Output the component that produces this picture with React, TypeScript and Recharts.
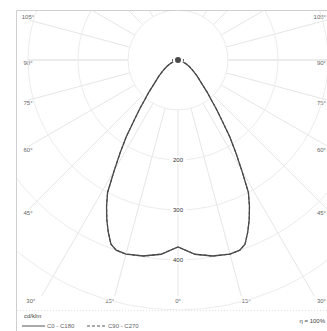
import { RadarChart, Radar, PolarGrid, PolarAngleAxis, PolarRadiusAxis } from "recharts";

// Half profile (0° = straight down), mirrored to both sides.
const GAMMA = [0, 5, 10, 15, 18, 20, 22, 24, 26, 28, 30, 32, 34, 36, 38, 40, 42, 45, 50, 55, 60, 65, 70, 80, 90];
const C0_C180 = [374, 390, 398, 402, 400, 392, 372, 350, 326, 300, 255, 218, 185, 150, 125, 103, 88, 68, 50, 36, 26, 17, 10, 4, 0];
const C90_C270 = [374, 390, 398, 402, 400, 392, 372, 350, 326, 300, 255, 218, 185, 150, 125, 103, 88, 68, 50, 36, 26, 17, 10, 4, 0];

const RING_TICKS = [100, 200, 300, 400, 500, 600, 700];
const RING_LABELS = [200, 300, 400];
const RAY_ANGLES = [-180, -165, -150, -135, -120, -105, -90, -75, -60, -45, -30, -15, 0, 15, 30, 45, 60, 75, 90, 105, 120, 135, 150, 165];
const LABEL_ANGLES = [-105, -90, -75, -60, -45, -30, -15, 0, 15, 30, 45, 60, 75, 90, 105];

const W = 327;
const H = 331;
const CX = 178;
const CY = 60;
const MAX_VALUE = 700;
const OUTER = 350; // 50 px per 100 cd/klm
const RAY_BOX = { left: 28, right: 328, top: 11, bottom: 296 };
const FONT = "'Liberation Sans', Arial, sans-serif";
const TEXT = "#666";

const tableData = [
  ...GAMMA.slice(1).map((g, i) => ({ angle: -g, c0: C0_C180[i + 1], c90: C90_C270[i + 1] })).reverse(),
  ...GAMMA.map((g, i) => ({ angle: g, c0: C0_C180[i], c90: C90_C270[i] })),
];

function rayEnd(theta: number) {
  const rad = (theta * Math.PI) / 180;
  const dx = Math.sin(rad);
  const dy = Math.cos(rad);
  const ts: number[] = [];
  if (dx > 1e-6) ts.push((RAY_BOX.right - CX) / dx);
  if (dx < -1e-6) ts.push((RAY_BOX.left - CX) / dx);
  if (dy > 1e-6) ts.push((RAY_BOX.bottom - CY) / dy);
  if (dy < -1e-6) ts.push((RAY_BOX.top - CY) / dy);
  const t = Math.min(...ts);
  return { x: CX + dx * t, y: CY + dy * t, dx, dy, t };
}

const RingTick = (props: any) => {
  const { x, y, payload } = props;
  if (!RING_LABELS.includes(payload.value)) return <g />;
  return (
    <g>
      <rect x={x - 8} y={y - 4} width={16} height={8} fill="#fff" />
      <text x={x} y={y} textAnchor="middle" dominantBaseline="central" fontSize={6} fontFamily={FONT} fill="#333">
        {payload.value}
      </text>
    </g>
  );
};

function Backdrop() {
  return (
    <svg width={W} height={H} style={{ position: "absolute", left: 0, top: 0 }}>
      <defs>
        <clipPath id="lum-clip" clipPathUnits="userSpaceOnUse">
          <rect x={17} y={11} width={W - 17} height={299} />
        </clipPath>
      </defs>
      <rect x={0} y={0} width={W} height={H} fill="#fff" />
      <line x1={16.5} y1={10.5} x2={16.5} y2={H} stroke="#cfcfcf" />
      <line x1={16.5} y1={10.5} x2={W} y2={10.5} stroke="#cfcfcf" />
      <line x1={17} y1={310.5} x2={W} y2={310.5} stroke="#e2e2e2" strokeDasharray="1 2" />
      {RAY_ANGLES.map((a) => {
        const e = rayEnd(a);
        return (
          <line
            key={a}
            x1={CX + e.dx * 50}
            y1={CY + e.dy * 50}
            x2={e.x}
            y2={e.y}
            stroke={Math.abs(a) === 90 ? "#d8d8d8" : "#e6e6e6"}
            strokeWidth={1}
          />
        );
      })}
      {LABEL_ANGLES.map((a) => {
        const e = rayEnd(a);
        const onBottom = Math.abs(e.y - RAY_BOX.bottom) < 0.5;
        const onRight = e.x > CX + 100;
        const x = onBottom ? CX + (e.x - CX) * 1.08 : e.x;
        const y = onBottom ? e.y + 5 : e.y + (a === 0 ? 0 : 3 * Math.sign(e.dy));
        return (
          <text
            key={a}
            x={onRight ? 326 : x}
            y={y}
            textAnchor={onRight ? "end" : "middle"}
            dominantBaseline="central"
            fontSize={6}
            fontFamily={FONT}
            fill={TEXT}
          >
            {Math.abs(a)}°
          </text>
        );
      })}
      <line x1={172} y1={60} x2={184} y2={60} stroke="#333" strokeWidth={1.5} />
      <text x={24} y={318} fontSize={6} fontFamily={FONT} fill="#444">
        cd/klm
      </text>
      <line x1={22} y1={326} x2={45} y2={326} stroke="#555" strokeWidth={1} />
      <text x={47} y={328} fontSize={6} fontFamily={FONT} fill={TEXT}>
        C0 - C180
      </text>
      <line x1={87} y1={326} x2={105} y2={326} stroke="#555" strokeWidth={1} strokeDasharray="3 2" />
      <text x={108} y={328} fontSize={6} fontFamily={FONT} fill={TEXT}>
        C90 - C270
      </text>
      <text x={325} y={323} textAnchor="end" fontSize={6} fontFamily={FONT} fill="#444">
        η = 100%
      </text>
    </svg>
  );
}

export default function App() {
  return (
    <div style={{ position: "absolute", left: 0, top: 0, width: W, height: H }}>
      <style>{".recharts-polar-grid{clip-path:url(#lum-clip)}"}</style>
      <Backdrop />
      <div style={{ position: "absolute", left: 0, top: 0 }}>
        <RadarChart
          width={W}
          height={H}
          data={tableData}
          cx={CX}
          cy={CY}
          outerRadius={OUTER}
          startAngle={-270}
          endAngle={90}
          margin={{ top: 0, right: 0, bottom: 0, left: 0 }}
        >
          <PolarGrid gridType="circle" radialLines={false} stroke="#ececec" />
          <PolarAngleAxis type="number" dataKey="angle" domain={[-180, 180]} tick={false} axisLine={false} tickLine={false} />
          <PolarRadiusAxis
            type="number"
            domain={[0, MAX_VALUE]}
            ticks={RING_TICKS}
            angle={-90}
            axisLine={false}
            tick={RingTick}
          />
          <Radar dataKey="c0" stroke="#4a4a4a" strokeWidth={1.3} fill="none" fillOpacity={0} dot={false} isAnimationActive={false} />
          <Radar
            dataKey="c90"
            stroke="#4a4a4a"
            strokeWidth={1.1}
            strokeDasharray="3 2"
            fill="none"
            fillOpacity={0}
            dot={false}
            isAnimationActive={false}
          />
        </RadarChart>
      </div>
    </div>
  );
}
